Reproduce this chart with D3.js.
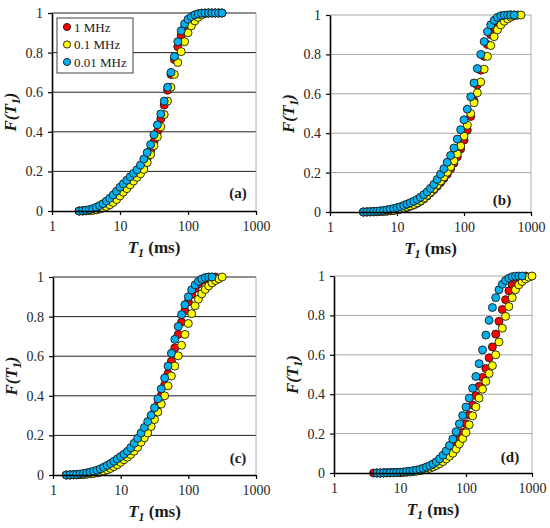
<!DOCTYPE html>
<html>
<head>
<meta charset="utf-8">
<script src="https://cdn.jsdelivr.net/npm/d3@7"></script>
<style>
  body { margin: 0; background: #fff; }
  svg { display: block; }
  svg text { font-family: "Liberation Serif", "DejaVu Serif", serif; }
</style>
</head>
<body>
<svg width="550" height="528"></svg>
<script>
// ---- data (F(T1) cumulative curves) ----
var seriesNames = ["1 MHz", "0.1 MHz", "0.01 MHz"];
var yTicks = [0, 0.2, 0.4, 0.6, 0.8, 1];
var xTicks = [1, 10, 100, 1000];

// panel (a)
var t1A = [2.51, 2.82, 3.16, 3.55, 3.98, 4.47, 5.01, 5.62, 6.31, 7.08,
  7.94, 8.91, 10, 11.2, 12.6, 14.1, 15.8, 17.8, 20.0, 22.4,
  25.1, 28.2, 31.6, 35.5, 39.8, 44.7, 50.1, 56.2, 63.1, 70.8,
  79.4, 89.1, 100, 112, 126, 141, 158, 178, 200, 224,
  251, 282, 316];
var redA = [0, 0, 0.001, 0.002, 0.004, 0.007, 0.011, 0.017, 0.025, 0.035,
  0.048, 0.064, 0.083, 0.103, 0.122, 0.141, 0.160, 0.180, 0.200, 0.230,
  0.265, 0.305, 0.350, 0.400, 0.465, 0.535, 0.610, 0.690, 0.765, 0.830,
  0.885, 0.925, 0.955, 0.975, 0.988, 0.995, 0.999, 1, 1, 1,
  1, 1, 1];
var yellowA = [0, 0, 0.001, 0.002, 0.003, 0.006, 0.010, 0.015, 0.022, 0.031,
  0.043, 0.058, 0.076, 0.095, 0.113, 0.132, 0.151, 0.170, 0.188, 0.210,
  0.245, 0.285, 0.330, 0.375, 0.425, 0.487, 0.555, 0.625, 0.690, 0.750,
  0.805, 0.855, 0.900, 0.935, 0.960, 0.978, 0.990, 0.997, 1, 1,
  1, 1, 1];
var blueA = [0, 0.002, 0.004, 0.007, 0.012, 0.019, 0.027, 0.037, 0.050, 0.064,
  0.081, 0.100, 0.120, 0.137, 0.155, 0.173, 0.190, 0.208, 0.232, 0.262,
  0.295, 0.335, 0.385, 0.435, 0.490, 0.555, 0.625, 0.700, 0.780, 0.855,
  0.910, 0.945, 0.968, 0.982, 0.991, 0.996, 0.999, 1, 1, 1,
  1, 1, 1];

// panel (b)
var t1B = [3.16, 3.55, 3.98, 4.47, 5.01, 5.62, 6.31, 7.08, 7.94, 8.91,
  10, 11.2, 12.6, 14.1, 15.8, 17.8, 20.0, 22.4, 25.1, 28.2,
  31.6, 35.5, 39.8, 44.7, 50.1, 56.2, 63.1, 70.8, 79.4, 89.1,
  100, 112, 126, 141, 158, 178, 200, 224, 251, 282,
  316, 355, 398, 447, 501, 562, 631, 708];
var redB = [0, 0, 0, 0.001, 0.001, 0.002, 0.003, 0.004, 0.006, 0.008,
  0.011, 0.014, 0.018, 0.023, 0.029, 0.036, 0.044, 0.054, 0.066, 0.081,
  0.097, 0.113, 0.130, 0.150, 0.170, 0.192, 0.218, 0.248, 0.280, 0.320,
  0.365, 0.415, 0.485, 0.565, 0.645, 0.720, 0.790, 0.850, 0.900, 0.938,
  0.965, 0.982, 0.992, 0.998, 1, 1, 1, null];
var yellowB = [0, 0, 0.001, 0.001, 0.002, 0.003, 0.004, 0.005, 0.007, 0.009,
  0.012, 0.016, 0.020, 0.025, 0.031, 0.038, 0.047, 0.057, 0.070, 0.085,
  0.100, 0.118, 0.137, 0.157, 0.178, 0.202, 0.230, 0.260, 0.295, 0.335,
  0.385, 0.440, 0.500, 0.555, 0.605, 0.660, 0.725, 0.790, 0.845, 0.890,
  0.925, 0.950, 0.968, 0.980, 0.990, 0.996, 0.999, 1];
var blueB = [0, 0.001, 0.002, 0.003, 0.004, 0.006, 0.008, 0.011, 0.014, 0.018,
  0.022, 0.027, 0.033, 0.040, 0.047, 0.055, 0.064, 0.075, 0.088, 0.102,
  0.120, 0.140, 0.165, 0.192, 0.220, 0.252, 0.287, 0.325, 0.370, 0.418,
  0.468, 0.522, 0.585, 0.655, 0.728, 0.800, 0.865, 0.915, 0.950, 0.973,
  0.988, 0.996, 0.999, 1, 1, 1, null, null];

// panel (c)
var t1C = [1.58, 1.78, 2.00, 2.24, 2.51, 2.82, 3.16, 3.55, 3.98, 4.47,
  5.01, 5.62, 6.31, 7.08, 7.94, 8.91, 10, 11.2, 12.6, 14.1,
  15.8, 17.8, 20.0, 22.4, 25.1, 28.2, 31.6, 35.5, 39.8, 44.7,
  50.1, 56.2, 63.1, 70.8, 79.4, 89.1, 100, 112, 126, 141,
  158, 178, 200, 224, 251, 282, 316];
var redC = [0, 0, 0.001, 0.001, 0.002, 0.003, 0.005, 0.007, 0.010, 0.013,
  0.017, 0.022, 0.028, 0.036, 0.046, 0.058, 0.072, 0.087, 0.103, 0.120,
  0.140, 0.163, 0.190, 0.218, 0.248, 0.280, 0.315, 0.355, 0.402, 0.455,
  0.512, 0.575, 0.642, 0.710, 0.772, 0.828, 0.875, 0.912, 0.942, 0.965,
  0.982, 0.993, 0.999, 1, 1, null, null];
var yellowC = [0, 0, 0.001, 0.001, 0.002, 0.003, 0.004, 0.006, 0.008, 0.011,
  0.015, 0.020, 0.026, 0.033, 0.042, 0.052, 0.064, 0.077, 0.090, 0.104,
  0.120, 0.140, 0.165, 0.188, 0.212, 0.245, 0.280, 0.318, 0.358, 0.400,
  0.450, 0.500, 0.550, 0.602, 0.655, 0.710, 0.765, 0.815, 0.855, 0.888,
  0.915, 0.937, 0.955, 0.970, 0.982, 0.991, 1];
var blueC = [0, 0.001, 0.002, 0.003, 0.005, 0.008, 0.011, 0.015, 0.019, 0.024,
  0.031, 0.039, 0.048, 0.058, 0.069, 0.081, 0.093, 0.105, 0.120, 0.138,
  0.160, 0.185, 0.212, 0.240, 0.270, 0.302, 0.340, 0.385, 0.435, 0.490,
  0.550, 0.615, 0.685, 0.750, 0.810, 0.860, 0.900, 0.935, 0.960, 0.978,
  0.990, 0.997, 1, 1, null, null, null];

// panel (d)
var t1D = [3.98, 4.47, 5.01, 5.62, 6.31, 7.08, 7.94, 8.91, 10, 11.2,
  12.6, 14.1, 15.8, 17.8, 20.0, 22.4, 25.1, 28.2, 31.6, 35.5,
  39.8, 44.7, 50.1, 56.2, 63.1, 70.8, 79.4, 89.1, 100, 112,
  126, 141, 158, 178, 200, 224, 251, 282, 316, 355,
  398, 447, 501, 562, 631, 708, 794, 891, 1000];
var redD = [0, 0, 0, 0.001, 0.001, 0.001, 0.002, 0.002, 0.003, 0.004,
  0.005, 0.007, 0.009, 0.011, 0.014, 0.018, 0.022, 0.028, 0.035, 0.044,
  0.055, 0.068, 0.080, 0.093, 0.110, 0.138, 0.170, 0.207, 0.250, 0.295,
  0.345, 0.393, 0.440, 0.485, 0.530, 0.585, 0.640, 0.705, 0.770, 0.830,
  0.880, 0.925, 0.958, 0.980, 0.992, 0.998, 1, null, null];
var yellowD = [null, 0, 0, 0, 0.001, 0.001, 0.001, 0.002, 0.002, 0.003,
  0.004, 0.005, 0.007, 0.009, 0.012, 0.015, 0.019, 0.024, 0.030, 0.038,
  0.047, 0.058, 0.071, 0.085, 0.100, 0.122, 0.147, 0.175, 0.205, 0.245,
  0.290, 0.335, 0.380, 0.425, 0.465, 0.505, 0.545, 0.600, 0.665, 0.735,
  0.795, 0.845, 0.890, 0.930, 0.955, 0.972, 0.985, 0.994, 1];
var blueD = [null, 0, 0, 0.001, 0.001, 0.002, 0.002, 0.003, 0.004, 0.005,
  0.007, 0.009, 0.012, 0.015, 0.019, 0.024, 0.030, 0.037, 0.046, 0.057,
  0.072, 0.090, 0.112, 0.140, 0.172, 0.210, 0.250, 0.292, 0.335, 0.380,
  0.430, 0.490, 0.555, 0.625, 0.700, 0.775, 0.840, 0.890, 0.930, 0.958,
  0.977, 0.989, 0.996, 0.999, 1, 1, null, null, null];

// ---- drawing ----
var serif = "Liberation Serif";
var colors = ["#ff0000", "#ffff00", "#00b0f0"];
var svg = d3.select("svg");

var panels = [
  { label: "(a)", t1: t1A, vals: [redA, yellowA, blueA], x0: 52, x1: 256, y0: 13, y1: 211,
    grid: "#1e1e1e", lx: 238, ly: 198, legend: true },
  { label: "(b)", t1: t1B, vals: [redB, yellowB, blueB], x0: 330, x1: 531, y0: 15, y1: 212,
    grid: "#a6a6a6", lx: 502, ly: 205 },
  { label: "(c)", t1: t1C, vals: [redC, yellowC, blueC], x0: 53, x1: 256, y0: 277, y1: 475,
    grid: "#1e1e1e", lx: 238, ly: 463 },
  { label: "(d)", t1: t1D, vals: [redD, yellowD, blueD], x0: 334, x1: 532, y0: 276, y1: 473,
    grid: "#a6a6a6", lx: 510, ly: 462 }
];

panels.forEach(function(p) {
  var x = d3.scaleLog().domain([1, 1000]).range([p.x0, p.x1]);
  var y = d3.scaleLinear().domain([0, 1]).range([p.y1, p.y0]);
  var g = svg.append("g");

  // horizontal grid lines
  g.selectAll("line.grid")
    .data(yTicks.slice(1))
    .enter()
    .append("line")
    .attr("x1", p.x0).attr("x2", p.x1)
    .attr("y1", y).attr("y2", y)
    .attr("stroke", p.grid)
    .attr("stroke-width", 1);

  // right border
  g.append("line")
    .attr("x1", p.x1).attr("x2", p.x1)
    .attr("y1", p.y0).attr("y2", p.y1)
    .attr("stroke", "#a0a0a0")
    .attr("stroke-width", 0.8);

  // series: 1 MHz first, 0.01 MHz on top
  p.vals.forEach(function(v, i) {
    var pts = d3.zip(p.t1, v).filter(function(d) { return d[1] != null; });
    g.append("g").selectAll("circle")
      .data(pts)
      .enter()
      .append("circle")
      .attr("cx", function(d) { return x(d[0]); })
      .attr("cy", function(d) { return y(d[1]); })
      .attr("r", 4)
      .attr("fill", colors[i])
      .attr("stroke", "#1a1a1a")
      .attr("stroke-width", 0.9);
  });

  // axes
  var ay = g.append("g")
    .attr("transform", "translate(" + p.x0 + ",0)")
    .call(d3.axisLeft(y).tickValues(yTicks).tickFormat(d3.format("~g"))
      .tickSize(4).tickSizeOuter(0).tickPadding(5));
  var ax = g.append("g")
    .attr("transform", "translate(0," + p.y1 + ")")
    .call(d3.axisBottom(x).tickValues(xTicks).tickFormat(d3.format("d"))
      .tickSize(4).tickSizeOuter(0).tickPadding(6));
  [ay, ax].forEach(function(a) {
    a.attr("font-family", null).attr("font-size", 14);
    a.select(".domain").attr("stroke", "#000").attr("stroke-width", 1.6);
    a.selectAll(".tick line").attr("stroke", "#000").attr("stroke-width", 1.2);
    a.selectAll(".tick text").attr("fill", "#262626");
  });

  // x title: T1 (ms)
  var xt = g.append("text")
    .attr("x", (p.x0 + p.x1) / 2)
    .attr("y", p.y1 + 42)
    .attr("text-anchor", "middle")
    .attr("font-size", 17)
    .attr("font-weight", "bold")
    .attr("fill", "#1a1a1a");
  xt.append("tspan").attr("font-style", "italic").text("T");
  xt.append("tspan").attr("font-style", "italic").attr("font-size", 12).attr("dy", 4).text("1");
  xt.append("tspan").attr("dy", -4).text(" (ms)");

  // y title: F(T1)
  var yt = g.append("text")
    .attr("transform", "translate(" + (p.x0 - 42) + "," + ((p.y0 + p.y1) / 2) + ") rotate(-90)")
    .attr("text-anchor", "middle")
    .attr("dy", "0.35em")
    .attr("font-size", 17)
    .attr("font-weight", "bold")
    .attr("font-style", "italic")
    .attr("fill", "#1a1a1a");
  yt.append("tspan").text("F(T");
  yt.append("tspan").attr("font-size", 12).attr("dy", 4).text("1");
  yt.append("tspan").attr("dy", -4).text(")");

  // panel label
  g.append("text")
    .attr("x", p.lx).attr("y", p.ly)
    .attr("text-anchor", "middle")
    .attr("font-size", 15)
    .attr("font-weight", "bold")
    .attr("fill", "#1a1a1a")
    .text(p.label);

  // legend (panel a only)
  if (p.legend) {
    var lg = g.append("g");
    lg.append("rect")
      .attr("x", 57).attr("y", 18).attr("width", 76).attr("height", 55)
      .attr("fill", "#fff").attr("stroke", "#404040").attr("stroke-width", 1);
    var items = lg.selectAll("g.item")
      .data(seriesNames)
      .enter()
      .append("g")
      .attr("transform", function(d, i) { return "translate(67," + (27 + i * 17.5) + ")"; });
    items.append("circle")
      .attr("r", 3.6)
      .attr("fill", function(d, i) { return colors[i]; })
      .attr("stroke", "#1a1a1a")
      .attr("stroke-width", 0.9);
    items.append("text")
      .attr("x", 7).attr("dy", "0.35em")
      .attr("font-size", 13)
      .attr("fill", "#1a1a1a")
      .text(function(d) { return d; });
  }
});
</script>
</body>
</html>
